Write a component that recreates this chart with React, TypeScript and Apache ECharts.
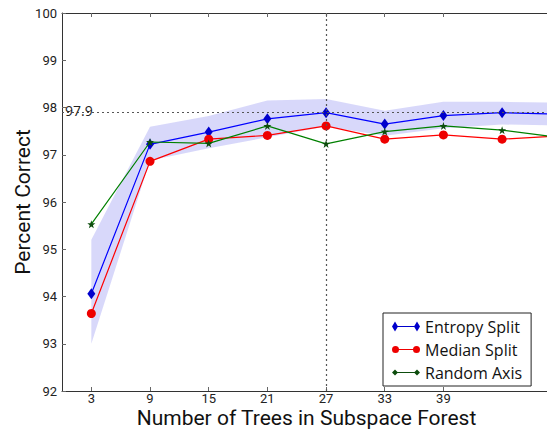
import React, { useEffect, useRef } from "react";
import * as echarts from "echarts";

const treeCounts = [3, 9, 15, 21, 27, 33, 39, 45, 51];
const entropySplit = [94.06, 97.22, 97.48, 97.76, 97.89, 97.65, 97.83, 97.89, 97.86];
const medianSplit = [93.64, 96.86, 97.33, 97.41, 97.61, 97.33, 97.42, 97.33, 97.4];
const randomAxis = [95.53, 97.27, 97.24, 97.61, 97.23, 97.49, 97.61, 97.52, 97.36];
const entropyUpper = [95.2, 97.59, 97.82, 98.15, 98.18, 97.93, 98.12, 98.12, 98.1];
const entropyLower = [93.0, 96.88, 97.14, 97.37, 97.6, 97.4, 97.56, 97.64, 97.62];
const xTickValues = [3, 9, 15, 21, 27, 33, 39];
const refValue = 97.9;
const refTrees = 27;

const FONT = "Open Sans";
const AXFONT = "Roboto";
const STAR =
  "path://M0,-10 L2.35,-3.24 L9.51,-3.09 L3.8,1.24 L5.88,8.09 L0,4 L-5.88,8.09 L-3.8,1.24 L-9.51,-3.09 L-2.35,-3.24 Z";
const ICON_DIAMOND =
  "path://M0,5 L3,0 L6,5 L3,10 Z M3,4.4 L25,4.4 L25,5.6 L3,5.6 Z M22,5 L25,0 L28,5 L25,10 Z";
const ICON_CIRCLE =
  "path://M0,5 A3.5,3.5 0 1 1 7,5 A3.5,3.5 0 1 1 0,5 Z M3.5,4.4 L24.5,4.4 L24.5,5.6 L3.5,5.6 Z M21,5 A3.5,3.5 0 1 1 28,5 A3.5,3.5 0 1 1 21,5 Z";
const ICON_STAR =
  "path://M0,5 L1.5,3.5 L3,2 L4.5,3.5 L6,5 L4.5,6.5 L3,8 L1.5,6.5 Z M3,4.5 L25,4.5 L25,5.5 L3,5.5 Z M22,5 L23.5,3.5 L25,2 L26.5,3.5 L28,5 L26.5,6.5 L25,8 L23.5,6.5 Z M0,0 L0.01,0 Z M0,10 L0.01,10 Z";

const pairs = (ys: number[]) => treeCounts.map((x, i) => [x, ys[i]]);

export default function App() {
  const ref = useRef<HTMLDivElement>(null);
  useEffect(() => {
    if (!ref.current) return;
    const chart = echarts.init(ref.current, null, { renderer: "svg" });
    const axisColor = "#333";
    chart.setOption({
      animation: false,
      backgroundColor: "#fff",
      textStyle: { fontFamily: FONT },
      grid: { left: 62, top: 13, bottom: 39, right: -4, containLabel: false, outerBoundsMode: "none" },
      xAxis: [
        {
          type: "value",
          min: 0,
          max: 50,
          position: "bottom",
          name: "Number of Trees in Subspace Forest",
          nameLocation: "middle",
          nameGap: 16,
          nameMoveOverlap: false,
          nameTextStyle: { fontFamily: AXFONT, fontSize: 21, color: "#111", lineHeight: 22 },
          axisLine: { show: true, onZero: false, lineStyle: { color: axisColor, width: 1 } },
          axisTick: { show: true, inside: true, length: 4, customValues: xTickValues, lineStyle: { color: "#666" } },
          axisLabel: {
            show: true,
            customValues: xTickValues,
            fontFamily: AXFONT,
            fontSize: 13,
            lineHeight: 13,
            color: "#222",
            margin: 1,
          },
          splitLine: { show: false },
        },
        {
          type: "value",
          min: 0,
          max: 50,
          position: "top",
          axisLine: { show: true, onZero: false, lineStyle: { color: axisColor, width: 1 } },
          axisTick: { show: true, inside: true, length: 4, customValues: xTickValues, lineStyle: { color: "#666" } },
          axisLabel: { show: false },
          splitLine: { show: false },
        },
      ],
      yAxis: [
        {
          type: "value",
          min: 92,
          max: 100,
          interval: 1,
          position: "left",
          name: "Percent Correct",
          nameLocation: "middle",
          nameGap: 28,
          nameMoveOverlap: false,
          nameTextStyle: { fontFamily: AXFONT, fontSize: 21, color: "#111", lineHeight: 22 },
          axisLine: { show: true, onZero: false, lineStyle: { color: axisColor, width: 1 } },
          axisTick: { show: true, inside: true, length: 4, lineStyle: { color: "#666" } },
          axisLabel: { fontFamily: AXFONT, fontSize: 13, lineHeight: 13, color: "#222", margin: 5 },
          splitLine: { show: false },
        },
        {
          type: "value",
          min: 92,
          max: 100,
          interval: 1,
          position: "right",
          axisLine: { show: true, onZero: false, lineStyle: { color: axisColor, width: 1 } },
          axisTick: { show: true, inside: true, length: 4, lineStyle: { color: "#666" } },
          axisLabel: { show: false },
          splitLine: { show: false },
        },
      ],
      legend: {
        orient: "vertical",
        left: 383,
        top: 313,
        padding: [5, 9, 5, 9],
        itemGap: 6,
        itemWidth: 28,
        itemHeight: 10,
        itemStyle: { borderWidth: 0 },
        borderColor: "#222",
        borderWidth: 1,
        backgroundColor: "#fff",
        textStyle: { fontFamily: FONT, fontSize: 16, color: "#111", lineHeight: 17 },
        data: [
          { name: "Entropy Split", icon: ICON_DIAMOND },
          { name: "Median Split", icon: ICON_CIRCLE },
          { name: "Random Axis", icon: ICON_STAR },
        ],
      },
      series: [
        {
          name: "band",
          type: "custom",
          clip: true,
          silent: true,
          z: 1,
          data: treeCounts.map((x, i) => [x, entropyLower[i], entropyUpper[i]]),
          encode: { x: 0, y: [1, 2] },
          renderItem: (params: any, api: any) => {
            if (params.dataIndex !== 0) return null;
            const upper = treeCounts.map((x, i) => api.coord([x, entropyUpper[i]]));
            const lower = treeCounts.map((x, i) => api.coord([x, entropyLower[i]])).reverse();
            return {
              type: "polygon",
              shape: { points: upper.concat(lower) },
              style: { fill: "rgba(40,40,230,0.18)" },
            };
          },
        },
        {
          name: "Entropy Split",
          type: "line",
          data: pairs(entropySplit),
          symbol: "diamond",
          symbolSize: [8, 11],
          color: "#0000ee",
          lineStyle: { color: "#0000ff", width: 1.2 },
          itemStyle: { color: "#0000cc" },
          z: 3,
          markLine: {
            silent: true,
            symbol: "none",
            lineStyle: { type: [2, 3], color: "#555", width: 1.2 },
            label: { show: false },
            data: [
              {
                yAxis: refValue,
                label: {
                  show: true,
                  formatter: "97.9",
                  position: "insideStartTop",
                  distance: [3, -5],
                  fontFamily: FONT,
                  fontSize: 14,
                  color: "#222",
                },
              },
              { xAxis: refTrees },
            ],
          },
        },
        {
          name: "Median Split",
          type: "line",
          data: pairs(medianSplit),
          symbol: "circle",
          symbolSize: 9,
          color: "#ff0000",
          lineStyle: { color: "#ff0000", width: 1.2 },
          itemStyle: { color: "#ee0000" },
          z: 4,
        },
        {
          name: "Random Axis",
          type: "line",
          data: pairs(randomAxis),
          symbol: STAR,
          symbolSize: 8,
          color: "#008000",
          lineStyle: { color: "#008000", width: 1.2 },
          itemStyle: { color: "#0d4d0d" },
          z: 5,
        },
      ],
    });
    return () => chart.dispose();
  }, []);
  return <div ref={ref} style={{ width: 547, height: 430, position: "absolute", left: 0, top: 0 }} />;
}
